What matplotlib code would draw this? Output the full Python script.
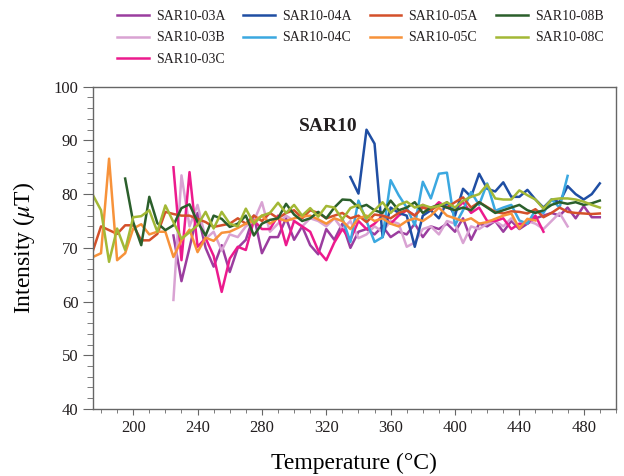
import matplotlib
matplotlib.use('Agg')
import matplotlib.pyplot as plt
from matplotlib.ticker import MultipleLocator

plt.rcParams['font.family'] = ['Liberation Serif', 'DejaVu Serif']
plt.rcParams['mathtext.fontset'] = 'stix'
plt.rcParams['text.color'] = '#231f20'

step = 5

# series: name -> first temperature, intensities every 5 C
names = ['SAR10-03A', 'SAR10-03B', 'SAR10-03C', 'SAR10-04A', 'SAR10-04C',
         'SAR10-05A', 'SAR10-05C', 'SAR10-08B', 'SAR10-08C']
colors = ['#9b3d9f', '#d9a3d3', '#ec1a8d', '#1f4ea3', '#3ba8e0',
          '#d4502a', '#f7923a', '#2b5f2b', '#a3b835']

start_03A = 225
vals_03A = [72.3, 63.8, 70.0, 76.5, 70.0, 66.5, 70.5, 65.5, 70.0, 71.5,
            76.0, 69.0, 72.0, 72.0, 75.5, 71.5, 74.0, 70.5, 68.8, 73.5,
            71.5, 74.5, 70.0, 73.0, 73.5, 72.5, 74.0, 72.0, 73.0, 72.5,
            74.5, 72.0, 74.0, 73.5, 74.5, 73.0, 75.5, 71.5, 74.5, 74.0,
            75.0, 73.0, 75.0, 73.5, 74.5, 75.5, 76.0, 76.5, 76.0, 77.5,
            75.5, 77.8, 75.7, 75.7]

start_03B = 225
vals_03B = [60.3, 83.5, 74.0, 78.0, 71.7, 73.0, 69.5, 72.5, 72.0, 74.0,
            75.0, 78.5, 73.0, 74.5, 76.0, 75.0, 74.0, 75.5, 75.0, 74.0,
            75.5, 73.5, 75.0, 71.8, 72.5, 74.0, 73.0, 75.0, 74.5, 70.2,
            71.0, 73.5, 74.0, 72.5, 75.0, 74.5, 70.9, 74.0, 73.5, 74.5,
            75.0, 74.0, 75.5, 74.0, 75.0, 74.5, 73.5, 75.0, 76.5, 74.0]

start_03C = 225
vals_03C = [85.0, 67.7, 84.1, 70.2, 71.8, 68.5, 61.8, 68.0, 70.2, 69.6,
            75.1, 73.5, 73.5, 76.0, 70.5, 75.0, 74.0, 73.0, 69.5, 67.7,
            71.0, 73.5, 71.5, 75.0, 73.5, 74.5, 76.0, 74.5, 76.0, 77.0,
            76.0, 78.0, 77.0, 78.5, 77.5, 77.0, 78.5, 76.5, 77.5, 75.0,
            75.0, 75.5, 73.5, 74.5, 74.5, 76.0, 73.0]

start_04A = 335
vals_04A = [83.2, 80.1, 92.0, 89.4, 72.0, 77.5, 76.5, 76.0, 70.2, 76.0,
            77.0, 75.5, 78.5, 76.0, 81.0, 79.5, 83.8, 81.0, 80.5, 82.2,
            79.5, 79.5, 80.8, 79.0, 77.5, 79.0, 78.5, 81.5, 80.0, 79.0,
            80.0, 82.0]

start_04C = 330
vals_04C = [75.5, 71.1, 78.8, 75.0, 71.1, 72.0, 82.6, 79.8, 77.5, 74.2,
            82.3, 79.2, 83.8, 84.0, 74.2, 77.0, 80.4, 78.0, 82.0, 76.9,
            77.5, 78.0, 75.1, 74.5, 77.0, 76.5, 79.0, 77.5, 83.4]

start_05A = 175
vals_05A = [69.5, 74.0, 73.3, 72.6, 74.2, 74.2, 71.4, 71.4, 72.6, 76.7,
            76.3, 76.0, 76.0, 75.4, 74.8, 73.9, 74.2, 74.5, 75.5, 74.5,
            76.0, 75.0, 76.5, 75.5, 76.5, 77.0, 75.5, 77.0, 76.5, 75.5,
            76.0, 76.5, 75.5, 76.0, 74.8, 76.2, 76.0, 75.5, 76.5, 77.0,
            76.0, 77.5, 77.0, 78.0, 77.5, 78.5, 79.4, 77.5, 78.5, 77.6,
            76.7, 76.4, 76.8, 76.7, 76.4, 77.2, 75.7, 76.5, 77.5, 76.7,
            76.5, 76.4, 76.3, 76.4]

start_05C = 175
vals_05C = [68.3, 69.0, 86.6, 67.7, 69.0, 73.6, 74.4, 72.5, 73.0, 73.0,
            68.3, 71.4, 73.4, 69.2, 71.9, 71.3, 72.8, 73.0, 73.7, 74.5,
            75.0, 76.0, 74.5, 75.5, 75.0, 75.5, 75.8, 76.0, 75.3, 74.5,
            75.5, 75.0, 73.5, 75.5, 76.0, 75.0, 75.5, 74.5, 74.0, 75.0,
            75.5, 75.0, 76.0, 77.5, 76.0, 75.5, 75.0, 75.5, 74.5, 74.8,
            75.4, 76.0, 76.4, 73.6, 75.4, 75.1]

start_08B = 195
vals_08B = [82.9, 74.8, 70.5, 79.5, 74.6, 73.3, 74.2, 77.4, 78.1, 74.8,
            72.3, 76.0, 75.4, 73.9, 74.5, 76.0, 72.3, 74.5, 75.2, 75.5,
            78.2, 76.2, 75.0, 75.5, 76.7, 75.5, 77.5, 79.0, 78.9, 77.5,
            78.0, 77.0, 76.5, 78.8, 77.0, 77.5, 78.5, 76.5, 77.5, 78.0,
            77.5, 77.0, 77.5, 77.0, 78.5, 77.5, 76.5, 77.0, 77.5, 78.0,
            77.0, 76.5, 77.0, 78.0, 78.5, 78.2, 78.5, 78.0, 78.3, 78.8]

start_08C = 175
vals_08C = [79.8, 77.0, 67.4, 73.6, 69.6, 75.7, 75.9, 77.0, 73.0, 77.9,
            74.8, 71.7, 72.9, 74.2, 76.7, 73.6, 76.7, 74.5, 74.0, 77.3,
            74.5, 76.0, 76.5, 78.4, 76.5, 78.0, 76.0, 77.4, 75.8, 77.8,
            77.5, 75.3, 77.4, 78.0, 75.5, 77.0, 78.5, 76.5, 78.0, 78.6,
            77.5, 78.0, 77.5, 77.8, 78.5, 77.5, 78.8, 79.5, 80.0, 81.8,
            79.2, 79.0, 79.0, 80.7, 79.8, 79.0, 77.3, 79.0, 79.2, 79.2,
            79.0, 78.6, 78.0, 77.5]

starts = [start_03A, start_03B, start_03C, start_04A, start_04C,
          start_05A, start_05C, start_08B, start_08C]
series = [vals_03A, vals_03B, vals_03C, vals_04A, vals_04C,
          vals_05A, vals_05C, vals_08B, vals_08C]

fig = plt.figure(figsize=(6.24, 4.76), dpi=100)
ax = fig.add_axes([0.149, 0.1408, 0.838, 0.677])

for name, c, t0, v in zip(names, colors, starts, series):
    temps = [t0 + step * i for i in range(len(v))]
    ax.plot(temps, v, color=c, lw=1.8, label=name)

ax.set_xlim(175, 500)
ax.set_ylim(40, 100)
ax.xaxis.set_major_locator(MultipleLocator(40))
ax.xaxis.set_minor_locator(MultipleLocator(10))
ax.yaxis.set_major_locator(MultipleLocator(10))
ax.yaxis.set_minor_locator(MultipleLocator(2))

for s in ax.spines.values():
    s.set_color('#666666')
    s.set_linewidth(1.0)
ax.tick_params(axis='both', which='both', direction='out', color='#666666',
               labelcolor='#231f20', labelsize=12, top=False, right=False)
ax.tick_params(axis='y', which='major', length=7)
ax.tick_params(axis='y', which='minor', length=4.5)
ax.tick_params(axis='x', which='major', length=4.5)
ax.tick_params(axis='x', which='minor', length=3)

ax.set_xlabel('Temperature (°C)', fontsize=17, labelpad=12)
ax.set_ylabel(r'Intensity ($\mu$T)', fontsize=17, labelpad=12)

ax.text(303, 92.6, 'SAR10', fontsize=14, fontweight='bold', ha='left', va='center')

fig.legend(loc='upper center', bbox_to_anchor=(0.577, 1.005), ncol=4, frameon=False,
           fontsize=10, handlelength=2.3, handletextpad=0.5, columnspacing=1.3,
           labelspacing=0.6)

fig.savefig('out.png', dpi=100)
